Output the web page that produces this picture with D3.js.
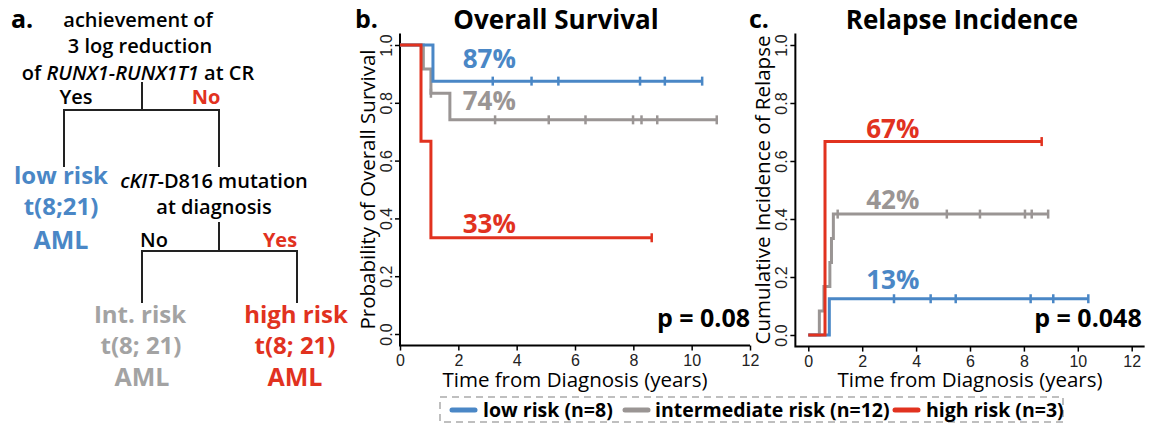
<!DOCTYPE html>
<html>
<head>
<meta charset="utf-8">
<script src="https://cdn.jsdelivr.net/npm/d3@7"></script>
<style>
  body { margin: 0; background: #fff; }
  svg { font-family: "Open Sans", sans-serif; }
</style>
</head>
<body>
<div id="chart"></div>
<script>
// tick labels
const timeTicks = [0, 2, 4, 6, 8, 10, 12];
const probTicks = [0, 0.2, 0.4, 0.6, 0.8, 1.0];

// b. overall survival: step times (years), value after each step, censor times
const osLowTimes = [0, 1.13];
const osLowValues = [1, 0.875];
const osLowCensor = [3.18, 4.51, 5.43, 8.23, 9.08, 10.36];
const osIntTimes = [0, 0.8, 1.06, 1.71];
const osIntValues = [1, 0.917, 0.833, 0.741];
const osIntCensor = [1.06, 3.26, 5.1, 6.36, 7.99, 8.28, 8.82, 10.86];
const osHighTimes = [0, 0.72, 1.06];
const osHighValues = [1, 0.667, 0.333];
const osHighCensor = [8.63];

// c. relapse incidence
const riLowTimes = [0, 0.78];
const riLowValues = [0, 0.125];
const riLowCensor = [3.18, 4.54, 5.47, 8.25, 9.09, 10.39];
const riIntTimes = [0, 0.41, 0.58, 0.8, 0.86, 0.93];
const riIntValues = [0, 0.083, 0.167, 0.25, 0.333, 0.417];
const riIntCensor = [1.09, 5.14, 6.37, 8.04, 8.29, 8.9];
const riHighTimes = [0, 0.62];
const riHighValues = [0, 0.667];
const riHighCensor = [8.66];

const groupNames = ["low risk (n=8)", "intermediate risk (n=12)", "high risk (n=3)"];
const osLabels = ["87%", "74%", "33%"];
const riLabels = ["13%", "42%", "67%"];
const osP = "p = 0.08";
const riP = "p = 0.048";

const colors = ["#4a87c6", "#9a9594", "#e1321f"];
const treeGray = "#a3a3a3";

const W = 1158, H = 423;
const svg = d3.select("#chart").append("svg")
    .attr("width", W)
    .attr("height", H);

// ---------- panel a: decision tree ----------
function treeText(x, y, parts, color, size, weight) {
    const t = svg.append("text")
        .attr("x", x)
        .attr("y", y)
        .attr("text-anchor", "middle")
        .attr("fill", color)
        .style("font-size", size + "px")
        .style("font-weight", weight);
    parts.forEach(p => {
        t.append("tspan")
            .style("font-style", p.italic ? "italic" : "normal")
            .text(p.s);
    });
}

svg.append("text")
    .attr("x", 11).attr("y", 28)
    .style("font-size", "25px").style("font-weight", 700)
    .text("a.");

treeText(138, 27, [{ s: "achievement of" }], "#000", 20, 600);
treeText(140, 53, [{ s: "3 log reduction" }], "#000", 20, 600);
treeText(138, 80, [{ s: "of " }, { s: "RUNX1-RUNX1T1", italic: true }, { s: " at CR" }], "#000", 20, 600);
treeText(76, 104, [{ s: "Yes" }], "#000", 20, 600);
treeText(206, 104, [{ s: "No" }], colors[2], 20, 700);

treeText(61, 184, [{ s: "low risk" }], colors[0], 24, 700);
treeText(61, 215, [{ s: "t(8;21)" }], colors[0], 24, 700);
treeText(61, 249, [{ s: "AML" }], colors[0], 25, 700);

treeText(214, 188, [{ s: "cKIT", italic: true }, { s: "-D816 mutation" }], "#000", 20, 600);
treeText(214, 214, [{ s: "at diagnosis" }], "#000", 20, 600);
treeText(154, 247, [{ s: "No" }], "#000", 20, 600);
treeText(280, 247, [{ s: "Yes" }], colors[2], 20, 700);

treeText(140, 323, [{ s: "Int. risk" }], treeGray, 24, 700);
treeText(141, 354, [{ s: "t(8; 21)" }], treeGray, 24, 700);
treeText(142, 386, [{ s: "AML" }], treeGray, 25, 700);
treeText(296, 323, [{ s: "high risk" }], colors[2], 24, 700);
treeText(295, 354, [{ s: "t(8; 21)" }], colors[2], 24, 700);
treeText(295, 386, [{ s: "AML" }], colors[2], 25, 700);

const branches = [
    [[142, 82], [142, 110]],
    [[64, 167], [64, 110], [219, 110], [219, 167]],
    [[219, 222], [219, 251]],
    [[142, 303], [142, 251], [297, 251], [297, 303]]
];
branches.forEach(b => {
    svg.append("path")
        .attr("d", d3.line()(b))
        .attr("fill", "none")
        .attr("stroke", "#222")
        .attr("stroke-width", 2);
});

// ---------- survival panels ----------
function stepValue(times, values, t) {
    let v = values[0];
    times.forEach((tt, i) => { if (t >= tt) v = values[i]; });
    return v;
}

function drawPanel(cfg) {
    const x = d3.scaleLinear().domain([0, 12]).range(cfg.xRange);
    const y = d3.scaleLinear().domain([0, 1]).range(cfg.yRange);
    const g = svg.append("g");

    const xLo = cfg.xExtend ? x(-0.48) : x(0);
    const xHi = cfg.xExtend ? x(12.48) : x(12);
    const yBot = y(-0.04), yTop = y(1.04);

    // L-shaped frame
    g.append("path")
        .attr("d", d3.line()([[xLo, yTop], [xLo, yBot], [xHi, yBot]]))
        .attr("fill", "none")
        .attr("stroke", "#000")
        .attr("stroke-width", 2);

    const yAxis = g.append("g")
        .attr("transform", `translate(${xLo},0)`)
        .call(d3.axisLeft(y).tickValues(probTicks).tickFormat(d3.format(".1f")).tickSize(5));
    yAxis.select(".domain").remove();
    yAxis.selectAll("line").attr("stroke-width", 1.5);
    yAxis.selectAll("text")
        .attr("transform", "rotate(-90)")
        .attr("x", 0).attr("y", -8).attr("dy", 0)
        .attr("text-anchor", "middle")
        .style("font-size", "16px")
        .attr("fill", "#222");

    const xAxis = g.append("g")
        .attr("transform", `translate(0,${yBot})`)
        .call(d3.axisBottom(x).tickValues(timeTicks).tickSize(5).tickPadding(4));
    xAxis.select(".domain").remove();
    xAxis.selectAll("line").attr("stroke-width", 1.5);
    xAxis.selectAll("text")
        .style("font-size", "16px")
        .attr("fill", "#222");

    g.append("text")
        .attr("transform", `translate(${xLo - 25},${y(0.5)}) rotate(-90)`)
        .attr("text-anchor", "middle")
        .style("font-size", "20.5px")
        .text(cfg.yTitle);

    g.append("text")
        .attr("x", x(6)).attr("y", 387)
        .attr("text-anchor", "middle")
        .style("font-size", "20.5px")
        .text("Time from Diagnosis (years)");

    g.append("text")
        .attr("x", cfg.titleX).attr("y", 29)
        .attr("text-anchor", "middle")
        .style("font-size", "26px").style("font-weight", 700)
        .text(cfg.title);

    g.append("text")
        .attr("x", cfg.letterX).attr("y", 28)
        .style("font-size", "25px").style("font-weight", 700)
        .text(cfg.letter);

    // curves: intermediate, low, high (high on top)
    const line = d3.line()
        .x(d => x(d[0]))
        .y(d => y(d[1]))
        .curve(d3.curveStepAfter);

    [1, 0, 2].forEach(i => {
        const s = cfg.series[i];
        const end = d3.max(s.censor);
        const pts = s.times.map((t, k) => [t, s.values[k]]);
        pts.push([end, s.values[s.values.length - 1]]);
        g.append("path")
            .attr("d", line(pts))
            .attr("fill", "none")
            .attr("stroke", colors[i])
            .attr("stroke-width", 3);
        g.selectAll(null)
            .data(s.censor)
            .join("line")
            .attr("x1", d => x(d)).attr("x2", d => x(d))
            .attr("y1", d => y(stepValue(s.times, s.values, d)) - 4.5)
            .attr("y2", d => y(stepValue(s.times, s.values, d)) + 4.5)
            .attr("stroke", colors[i])
            .attr("stroke-width", 2.5);
        g.append("text")
            .attr("x", x(2.15)).attr("y", y(cfg.labelY[i]))
            .attr("fill", colors[i])
            .style("font-size", "26px").style("font-weight", 700)
            .text(cfg.labels[i]);
    });

    g.append("text")
        .attr("x", x(12) - cfg.pShift).attr("y", 327)
        .attr("text-anchor", "end")
        .style("font-size", "25px").style("font-weight", 700)
        .text(cfg.p);
}

drawPanel({
    xRange: [400, 750], yRange: [334, 45], xExtend: false,
    title: "Overall Survival", titleX: 556, letter: "b.", letterX: 355,
    yTitle: "Probability of Overall Survival",
    series: [
        { times: osLowTimes, values: osLowValues, censor: osLowCensor },
        { times: osIntTimes, values: osIntValues, censor: osIntCensor },
        { times: osHighTimes, values: osHighValues, censor: osHighCensor }
    ],
    labels: osLabels, labelY: [0.92, 0.775, 0.35], p: osP, pShift: 0
});

drawPanel({
    xRange: [808.3, 1131.7], yRange: [335, 45], xExtend: true,
    title: "Relapse Incidence", titleX: 962, letter: "c.", letterX: 749,
    yTitle: "Cumulative Incidence of Relapse",
    series: [
        { times: riLowTimes, values: riLowValues, censor: riLowCensor },
        { times: riIntTimes, values: riIntValues, censor: riIntCensor },
        { times: riHighTimes, values: riHighValues, censor: riHighCensor }
    ],
    labels: riLabels, labelY: [0.16, 0.436, 0.681], p: riP, pShift: -10
});

// ---------- legend ----------
const legend = svg.append("g");
legend.append("rect")
    .attr("x", 440).attr("y", 397)
    .attr("width", 623).attr("height", 25)
    .attr("fill", "none")
    .attr("stroke", "#aaa")
    .attr("stroke-width", 1.5)
    .attr("stroke-dasharray", "7,5");

const legendLineX = [450, 623, 893];
const legendTextX = [483, 655, 926];
groupNames.forEach((name, i) => {
    legend.append("line")
        .attr("x1", legendLineX[i] + 2).attr("x2", legendLineX[i] + 25)
        .attr("y1", 410).attr("y2", 410)
        .attr("stroke", colors[i])
        .attr("stroke-width", 5)
        .attr("stroke-linecap", "round");
    legend.append("text")
        .attr("x", legendTextX[i]).attr("y", 416.5)
        .style("font-size", "19.5px").style("font-weight", 700)
        .text(name);
});
</script>
</body>
</html>
